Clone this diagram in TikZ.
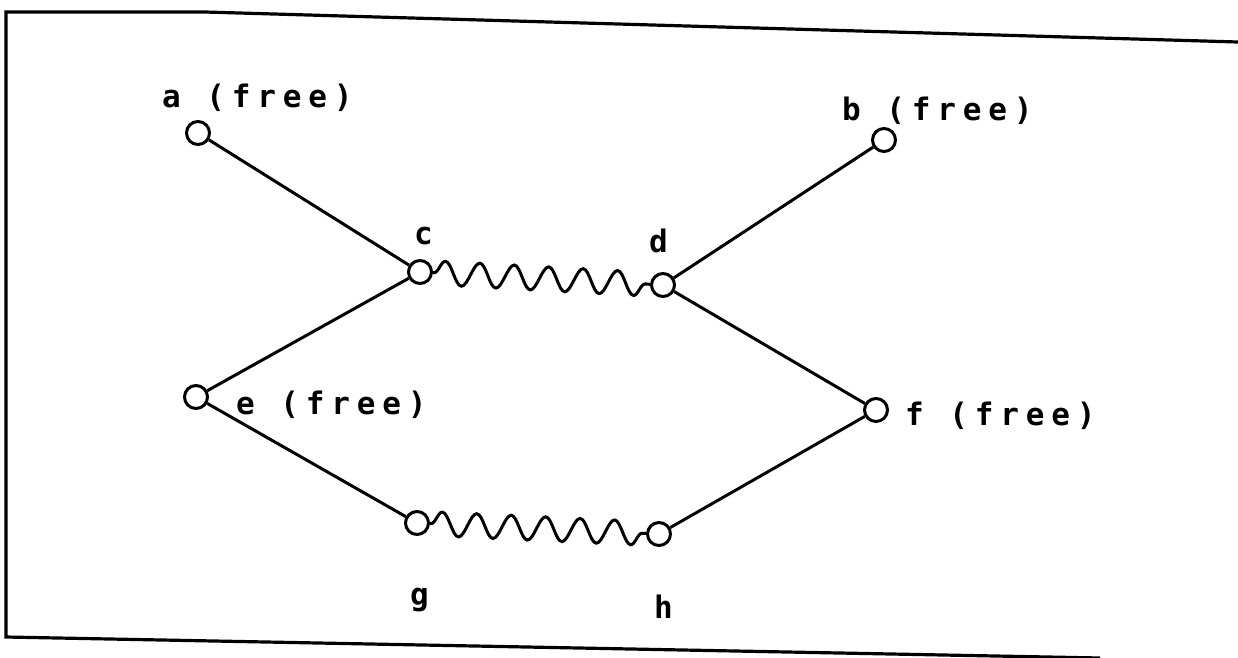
\documentclass[tikz,border=0pt]{standalone}
\usepackage{fontspec}
\newfontfamily\plotfont[LetterSpace=22]{DejaVu Sans Mono}
\usetikzlibrary{decorations.pathmorphing}
\tikzset{
  dot/.style={circle, draw, line width=3pt, minimum size=23pt, inner sep=0pt},
  bar/.style={line width=3pt},
  spring/.style={line width=3pt, decorate, decoration={snake, segment length=34.5pt, amplitude=12pt, pre length=1pt, post length=1pt}},
  frame/.style={line width=3.2pt},
  lbl/.style={anchor=base west, inner sep=0pt, font=\plotfont\bfseries\fontsize{31pt}{34pt}\selectfont}
}
\begin{document}
\begin{tikzpicture}[x=1pt,y=-1pt]
\useasboundingbox (0,0) rectangle (1238,657);
% frame
\coordinate (ft1) at (1238,42);
\coordinate (ft2) at (205,12);
\coordinate (ftl) at (6,12);
\coordinate (fbl) at (6,637);
\coordinate (fbr) at (1100,658);
\draw[frame] (ft1) -- (ft2) -- (ftl) -- (fbl) -- (fbr);
% nodes
\node[dot] (a) at (198,133) {};
\node[dot] (b) at (884,140) {};
\node[dot] (c) at (420,272) {};
\node[dot] (d) at (663,285) {};
\node[dot] (e) at (196,397) {};
\node[dot] (f) at (876,410) {};
\node[dot] (g) at (417,523) {};
\node[dot] (h) at (659,534) {};
% labels
\node[lbl] (la) at (162,107) {a (free)};
\node[lbl] (lb) at (842,120) {b (free)};
\node[lbl] (lc) at (414,244) {c};
\node[lbl] (ld) at (649,252) {d};
\node[lbl] (le) at (236,414) {e (free)};
\node[lbl] (lf) at (905,425) {f (free)};
\node[lbl] (lg) at (410,605) {g};
\node[lbl] (lh) at (654,618) {h};
% bars
\draw[bar] (a) -- (c);
\draw[bar] (c) -- (e);
\draw[bar] (e) -- (g);
\draw[bar] (d) -- (b);
\draw[bar] (d) -- (f);
\draw[bar] (f) -- (h);
% springs
\draw[spring] (c) -- (d);
\draw[spring] (g) -- (h);
\end{tikzpicture}
\end{document}
